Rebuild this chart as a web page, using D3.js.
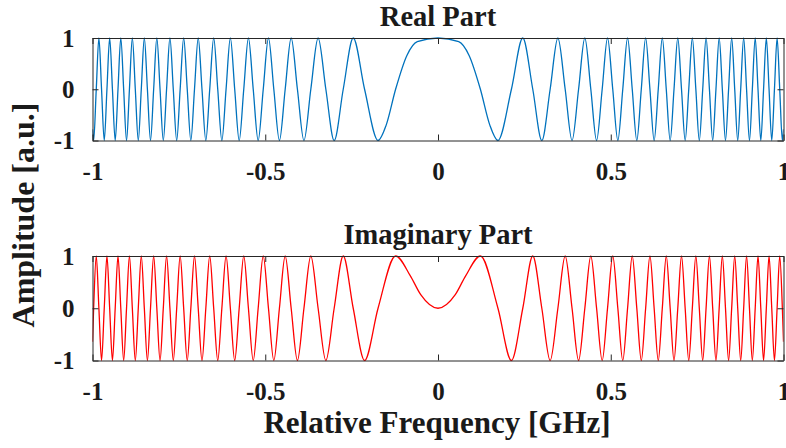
<!DOCTYPE html>
<html>
<head>
<meta charset="utf-8">
<script src="https://cdn.jsdelivr.net/npm/d3@7"></script>
<style>
  body { margin: 0; background: #fff; }
  text { font-family: "Liberation Serif", "Times New Roman", serif; font-weight: bold; fill: #1a1a1a; }
</style>
</head>
<body>
<svg id="chart" width="786" height="448"></svg>
<script>
// (positive half, both curves are symmetric about 0)
// f of each extremum of the real part, starting at +1 and alternating sign
const realPeakF = [0, 0.1735, 0.2454, 0.3005, 0.3470, 0.3880, 0.4250, 0.4590, 0.4907, 0.5205,
    0.5487, 0.5754, 0.6010, 0.6256, 0.6492, 0.6720, 0.6940, 0.7154, 0.7361, 0.7563, 0.7759,
    0.7951, 0.8138, 0.8321, 0.8500, 0.8675, 0.8847, 0.9015, 0.9181, 0.9343, 0.9503, 0.9660,
    0.9815, 0.9967]
// f of each extremum of the imaginary part, starting at +1 and alternating sign
const imagPeakF = [0.1227, 0.2125, 0.2743, 0.3246, 0.3681, 0.4069, 0.4423, 0.4752, 0.5058,
    0.5348, 0.5622, 0.5884, 0.6134, 0.6375, 0.6607, 0.6831, 0.7048, 0.7258, 0.7463, 0.7662,
    0.7856, 0.8045, 0.8230, 0.8411, 0.8588, 0.8761, 0.8931, 0.9098, 0.9262, 0.9423, 0.9582,
    0.9738, 0.9891]
// extra points where the curve is not sine-like (flat centre lobe) and at the edge
const realCenter = [[0.06, 0.93], [0.09, 0.66], [0.15, -0.70], [1, -0.78]]
const imagCenter = [[0, 0], [0.05, 0.26], [0.08, 0.62], [1, -0.64]]

const xTicks = [-1, -0.5, 0, 0.5, 1]
const yTicks = [-1, 0, 1]

const W = 786, H = 448
const left = 92.5, right = 783.5
const panels = [
    {title: "Real Part", top: 38, bottom: 140.5, color: "#0072BD",
        peaks: realPeakF, zeros: imagPeakF, extra: realCenter},
    {title: "Imaginary Part", top: 256, bottom: 360.5, color: "#FF0000",
        peaks: imagPeakF, zeros: realPeakF.slice(1), extra: imagCenter},
]

const svg = d3.select("#chart")

function buildSeries(p) {
    let half = p.peaks.map((f, i) => [f, i % 2 ? -1 : 1])
        .concat(p.zeros.map(f => [f, 0]))
        .concat(p.extra)
    half.sort((a, b) => a[0] - b[0])
    const neg = half.filter(d => d[0] > 0).map(d => [-d[0], d[1]]).reverse()
    return neg.concat(half)
}

const x = d3.scaleLinear().domain([-1, 1]).range([left, right])
const fmt = d => String(d)   // plain hyphen minus like the original

panels.forEach(p => {
    const y = d3.scaleLinear().domain([-1, 1]).range([p.bottom, p.top])
    const g = svg.append("g")

    // clip so the line never spills out of the box
    const clipId = "clip" + p.top
    g.append("clipPath").attr("id", clipId)
        .append("rect")
        .attr("x", left).attr("y", p.top - 1)
        .attr("width", right - left).attr("height", p.bottom - p.top + 2)

    const line = d3.line()
        .x(d => x(d[0]))
        .y(d => y(d[1]))
        .curve(d3.curveMonotoneX)

    g.append("path")
        .datum(buildSeries(p))
        .attr("clip-path", `url(#${clipId})`)
        .attr("fill", "none")
        .attr("stroke", p.color)
        .attr("stroke-width", 1.3)
        .attr("d", line)

    // axes, ticks inward on all four sides like matlab's box
    const tk = 6
    g.append("g").attr("transform", `translate(0,${p.bottom})`)
        .call(d3.axisBottom(x).tickValues(xTicks).tickSizeInner(-tk).tickSizeOuter(0)
            .tickPadding(22).tickFormat(fmt))
    g.append("g").attr("transform", `translate(0,${p.top})`)
        .call(d3.axisTop(x).tickValues(xTicks).tickSizeInner(-tk).tickSizeOuter(0).tickFormat(""))
    g.append("g").attr("transform", `translate(${left},0)`)
        .call(d3.axisLeft(y).tickValues(yTicks).tickSizeInner(-tk).tickSizeOuter(0)
            .tickPadding(18).tickFormat(fmt))
    g.append("g").attr("transform", `translate(${right},0)`)
        .call(d3.axisRight(y).tickValues(yTicks).tickSizeInner(-tk).tickSizeOuter(0).tickFormat(""))

    g.selectAll(".domain").attr("stroke", "#262626").attr("stroke-width", 1)
    g.selectAll(".tick line").attr("stroke", "#262626").attr("stroke-width", 1)
    g.selectAll(".tick text")
        .attr("font-family", "Liberation Serif, serif")
        .attr("font-weight", "bold")
        .attr("font-size", 25)
        .attr("fill", "#1a1a1a")

    g.append("text")
        .attr("x", (left + right) / 2)
        .attr("y", p.top - 12)
        .attr("text-anchor", "middle")
        .attr("font-size", 28.5)
        .text(p.title)
})

svg.append("text")
    .attr("x", 437)
    .attr("y", 433)
    .attr("text-anchor", "middle")
    .attr("font-size", 31)
    .text("Relative Frequency [GHz]")

svg.append("text")
    .attr("transform", "translate(34,215) rotate(-90)")
    .attr("text-anchor", "middle")
    .attr("font-size", 32)
    .text("Amplitude [a.u.]")
</script>
</body>
</html>
